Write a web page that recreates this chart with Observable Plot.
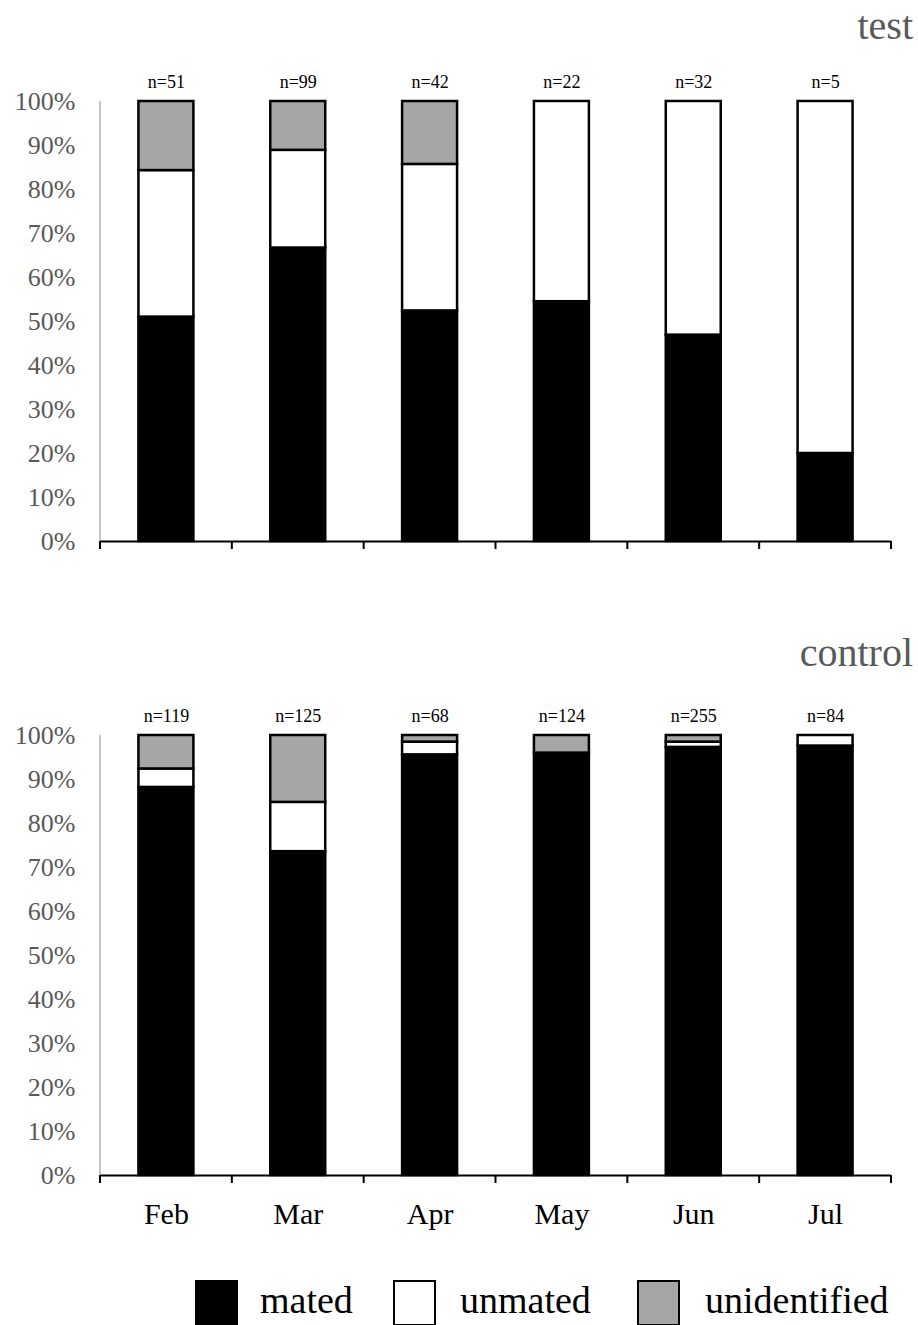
<!DOCTYPE html>
<html>
<head>
<meta charset="utf-8">
<script src="https://cdn.jsdelivr.net/npm/d3@7"></script>
<script src="https://cdn.jsdelivr.net/npm/@observablehq/plot@0.6"></script>
<style>
  body { margin: 0; background: #fff; }
  #wrap { position: relative; width: 918px; height: 1325px; overflow: hidden;
          font-family: "Liberation Serif", "Times New Roman", serif; background: #fff; }
  .title { position: absolute; right: 5px; font-size: 40px; line-height: 40px; color: #595959; }
  #top { position: absolute; left: 0; top: 60px; }
  #bottom { position: absolute; left: 0; top: 695px; }
  .lgbox { position: absolute; top: 1280px; width: 43px; height: 46px; box-sizing: border-box; border: 2px solid #000; }
  .lgtext { position: absolute; top: 1281px; font-size: 38px; line-height: 38px; color: #000; }
</style>
</head>
<body>
<div id="wrap">
  <div class="title" style="top:6px">test</div>
  <div id="top"></div>
  <div class="title" style="top:633px">control</div>
  <div id="bottom"></div>
</div>
<script>
const months = ["Feb", "Mar", "Apr", "May", "Jun", "Jul"];
const statuses = ["mated", "unmated", "unidentified"];
const statusColors = ["#000000", "#ffffff", "#a6a6a6"];
const yTicks = [0, 10, 20, 30, 40, 50, 60, 70, 80, 90, 100];

// test panel (percent)
const testN = [51, 99, 42, 22, 32, 5];
const testMated = [51.0, 66.7, 52.4, 54.5, 46.9, 20.0];
const testUnmated = [33.3, 22.2, 33.3, 45.5, 53.1, 80.0];
const testUnidentified = [15.7, 11.1, 14.3, 0, 0, 0];

// control panel (percent)
const controlN = [119, 125, 68, 124, 255, 84];
const controlMated = [88.2, 73.6, 95.6, 96.0, 97.3, 97.6];
const controlUnmated = [4.2, 11.2, 2.9, 0, 1.2, 2.4];
const controlUnidentified = [7.6, 15.2, 1.5, 4.0, 1.5, 0];

const legendLeft = [195, 393, 637];
const legendTextLeft = [260, 460, 705];

function rows(mated, unmated, unid) {
  return months.flatMap((m, i) => [
    {month: m, status: "mated", value: mated[i]},
    {month: m, status: "unmated", value: unmated[i]},
    {month: m, status: "unidentified", value: unid[i]}
  ]);
}

function decor(index, scales, values, dimensions) {
  const {width, height, marginLeft, marginRight, marginTop, marginBottom} = dimensions;
  const x = scales.x;
  const step = x.step ? x.step() : (width - marginLeft - marginRight) / months.length;
  const bw = x.bandwidth ? x.bandwidth() : 0;
  const y0 = height - marginBottom;
  const gap = (step - bw) / 2;
  const bounds = months.map(m => x(m) - gap).concat([x(months[months.length - 1]) + bw + gap]);
  const g = d3.create("svg:g");
  g.append("line").attr("x1", marginLeft).attr("x2", marginLeft)
    .attr("y1", marginTop).attr("y2", y0).attr("stroke", "#8c8c8c").attr("stroke-width", 1);
  g.selectAll("line.tk").data(bounds).join("line").attr("class", "tk")
    .attr("x1", d => d).attr("x2", d => d).attr("y1", y0).attr("y2", y0 + 8)
    .attr("stroke", "#000").attr("stroke-width", 2);
  return g.node();
}

function panel(data, nvals, showLabels) {
  const H = showLabels ? 560 : 500;
  const mTop = showLabels ? 40 : 41;
  const marks = [
    Plot.axisY({ticks: yTicks, tickSize: 0, tickPadding: 25, tickFormat: d => d + "%",
                fontSize: 26, color: "#595959", label: null}),
    Plot.barY(data, {x: "month", y: "value", fill: "status", stroke: "#000",
                     strokeWidth: 2.5, order: statuses}),
    Plot.ruleY([0], {stroke: "#000", strokeWidth: 2}),
    decor,
    Plot.text(months, {x: d => d, y: () => 100, text: (d, i) => "n=" + nvals[i],
                       dy: -19, fontSize: 18, fill: "#000"})
  ];
  if (showLabels) marks.push(Plot.axisX({tickSize: 0, tickPadding: 27, fontSize: 30, color: "#000", label: null}));
  return Plot.plot({
    width: 918,
    height: H,
    marginLeft: 100,
    marginRight: 27,
    marginTop: mTop,
    marginBottom: H - mTop - 440,
    style: {fontFamily: "'Liberation Serif', 'Times New Roman', serif", background: "transparent", overflow: "visible"},
    x: {domain: months, paddingInner: 0.583, paddingOuter: 0.2915, round: false, label: null, axis: showLabels ? undefined : null},
    y: {domain: [0, 100], label: null},
    color: {domain: statuses, range: statusColors},
    marks
  });
}

document.getElementById("top").appendChild(panel(rows(testMated, testUnmated, testUnidentified), testN, false));
document.getElementById("bottom").appendChild(panel(rows(controlMated, controlUnmated, controlUnidentified), controlN, true));

const wrap = document.getElementById("wrap");
statuses.forEach((s, i) => {
  const b = document.createElement("div");
  b.className = "lgbox";
  b.style.left = legendLeft[i] + "px";
  b.style.background = statusColors[i];
  wrap.appendChild(b);
  const t = document.createElement("div");
  t.className = "lgtext";
  t.style.left = legendTextLeft[i] + "px";
  t.textContent = s;
  wrap.appendChild(t);
});
</script>
</body>
</html>
